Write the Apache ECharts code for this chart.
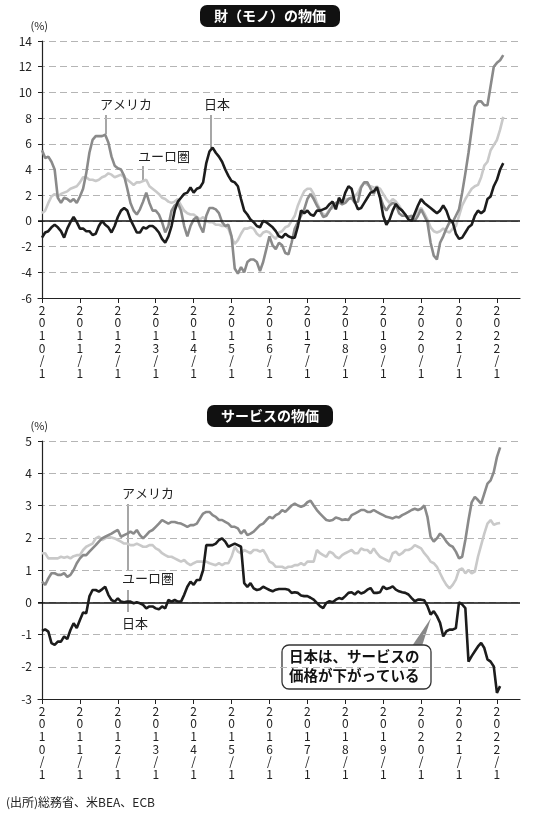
<!DOCTYPE html>
<html><head><meta charset="utf-8">
<script src="https://cdn.jsdelivr.net/npm/echarts@6/dist/echarts.min.js"></script>
<style>html,body{margin:0;padding:0;background:#fff}#c{width:540px;height:816px}</style>
</head><body><div id="c"></div>
<script>
// months from 2010/1 (index 0)
const tickMonths=[0,12,24,36,48,60,72,84,96,108,120,132,144];
const tickLabels=['2010/1','2011/1','2012/1','2013/1','2014/1','2015/1','2016/1','2017/1','2018/1','2019/1','2020/1','2021/1','2022/1'];
const goodsUS=[5.5,4.9,5.0,4.6,4.0,1.8,1.4,1.8,1.7,1.5,1.7,1.4,
1.9,2.5,3.7,5.3,6.3,6.6,6.6,6.6,6.7,6.1,5.0,4.3,
4.1,4.0,3.5,2.5,1.4,0.8,0.5,0.9,1.5,2.2,1.4,0.8,
0.8,0.5,-0.1,-0.9,-0.4,0.8,1.2,1.4,0.8,-0.4,-1.2,-0.4,
0.1,0.3,-0.4,-0.9,0.4,1.0,1.0,0.9,0.6,-0.1,-0.4,-0.3,
-1.2,-3.7,-4.1,-3.6,-4.0,-3.2,-3.0,-3.0,-3.2,-3.9,-3.2,-2.2,
-1.2,-1.9,-2.2,-1.7,-1.9,-2.5,-2.6,-1.7,-0.6,-0.1,0.4,0.9,
1.7,2.1,1.7,1.2,0.8,0.3,0.4,0.8,1.2,1.4,1.5,1.3,
1.4,1.7,1.8,1.4,1.5,2.6,3.0,3.0,2.5,2.1,2.7,1.9,
1.2,0.8,1.2,1.4,1.3,0.6,0.4,0.4,0.3,0.4,0.0,0.4,
0.9,0.4,-0.1,-1.7,-2.7,-3.0,-1.7,-1.2,-0.6,-0.1,-0.1,0.4,
0.9,2.2,3.7,5.3,7.1,8.9,9.3,9.3,9.0,9.0,10.5,12.0,
12.3,12.5,12.9];
const goodsEU=[0.6,0.8,1.4,1.9,2.1,1.9,2.1,2.2,2.3,2.5,2.6,2.7,
3.0,3.4,3.4,3.2,3.2,3.1,3.2,3.4,3.5,3.7,3.6,3.4,
3.5,3.6,3.4,3.2,3.0,2.8,3.0,3.0,3.1,3.2,2.7,2.5,
2.3,2.1,1.8,1.7,1.5,1.4,1.5,1.7,1.2,0.8,0.6,0.5,
0.5,0.3,0.1,0.3,0.0,-0.1,-0.1,-0.3,-0.3,-0.4,-0.4,-0.6,
-1.3,-1.8,-1.5,-1.0,-0.6,-0.6,-0.5,-0.6,-1.0,-1.2,-0.9,-0.8,
-0.9,-1.2,-1.4,-0.9,-0.8,-0.5,-0.4,0.0,0.4,1.2,1.8,2.3,
2.5,2.5,2.1,1.4,0.9,0.5,0.5,0.9,1.0,1.3,1.4,1.3,
1.7,1.7,1.8,1.9,2.2,2.7,3.0,2.8,2.7,2.6,2.6,2.5,
2.1,1.7,1.4,1.7,1.5,1.2,0.8,0.4,0.3,0.1,0.4,0.8,
1.0,0.6,0.1,-0.5,-0.8,-0.9,-0.8,-0.6,-0.8,-0.9,-0.6,-0.4,
0.4,1.2,1.7,2.1,2.5,2.7,2.8,3.4,4.3,4.6,5.5,5.9,
6.3,7.1,8.1];
const goodsJP=[-1.3,-0.9,-0.8,-0.5,-0.3,-0.5,-0.8,-1.3,-0.6,-0.1,0.3,-0.1,
-0.6,-0.6,-0.8,-0.8,-1.1,-1.0,-0.4,0.0,-0.3,-0.5,-0.9,-0.4,
0.3,0.8,1.0,0.8,0.1,-0.4,-0.9,-0.9,-0.5,-0.6,-0.4,-0.4,
-0.6,-0.9,-1.4,-1.7,-1.2,-0.4,0.8,1.5,1.8,2.1,2.2,2.6,
2.2,2.5,2.6,3.0,4.5,5.4,5.7,5.3,5.0,4.6,4.0,3.5,
3.1,3.0,2.7,1.7,0.8,0.5,0.1,-0.1,-0.4,-0.5,0.0,-0.1,
-0.3,-0.5,-0.8,-1.2,-1.3,-1.0,-1.2,-1.3,-1.3,-0.4,0.8,0.6,
0.8,0.5,0.4,0.8,0.8,0.9,1.0,1.3,1.5,0.9,1.8,1.4,
2.2,2.7,2.5,1.5,0.9,1.0,1.4,1.8,2.2,2.3,2.6,1.8,
0.4,-0.3,0.1,0.8,1.3,1.0,0.8,0.5,0.1,0.0,0.6,1.2,
1.7,1.4,1.2,1.0,0.8,0.6,0.8,1.2,0.8,0.1,-0.1,-1.0,
-1.4,-1.3,-0.9,-0.5,-0.3,0.4,0.8,0.6,0.8,1.7,1.9,2.7,
3.2,4.0,4.5];
const servUS=[0.64,0.54,0.74,0.90,0.90,0.85,0.85,0.90,0.79,0.85,1.0,1.21,
1.36,1.46,1.46,1.57,1.67,1.77,1.88,1.98,2.03,2.08,2.13,2.19,
2.24,2.03,2.08,2.13,2.19,2.13,2.24,2.08,1.98,2.08,2.19,2.24,
2.34,2.44,2.55,2.49,2.44,2.49,2.49,2.46,2.44,2.39,2.34,2.39,
2.39,2.44,2.60,2.75,2.80,2.80,2.70,2.65,2.55,2.55,2.49,2.44,
2.34,2.34,2.29,2.13,2.24,2.08,2.13,2.19,2.29,2.39,2.44,2.55,
2.65,2.6,2.7,2.75,2.86,2.8,2.9,3.0,3.06,3.0,2.96,3.0,
3.1,3.15,3.0,2.86,2.75,2.65,2.55,2.53,2.55,2.63,2.6,2.55,
2.57,2.55,2.7,2.75,2.8,2.86,2.86,2.8,2.8,2.86,2.8,2.75,
2.7,2.65,2.63,2.6,2.65,2.63,2.7,2.75,2.8,2.86,2.9,2.86,
2.9,3.0,2.65,2.03,1.88,1.98,2.13,2.03,1.88,1.77,1.72,1.57,
1.36,1.41,1.93,2.55,3.1,3.27,3.17,3.06,3.37,3.68,3.78,4.04,
4.5,4.8];
const servEU=[1.52,1.52,1.36,1.36,1.36,1.36,1.41,1.38,1.41,1.36,1.43,1.46,
1.46,1.62,1.72,1.77,1.82,1.98,2.03,1.93,1.98,2.03,2.01,1.98,
1.93,1.88,1.82,1.82,1.77,1.77,1.82,1.77,1.72,1.72,1.77,1.77,
1.67,1.62,1.52,1.46,1.41,1.41,1.36,1.31,1.26,1.31,1.21,1.15,
1.21,1.26,1.26,1.26,1.26,1.21,1.18,1.15,1.21,1.15,1.21,1.21,
1.41,1.72,1.57,1.52,1.62,1.57,1.52,1.62,1.62,1.57,1.62,1.46,
1.26,1.21,1.1,1.1,1.1,1.05,1.1,1.1,1.15,1.15,1.21,1.15,
1.26,1.26,1.26,1.62,1.52,1.46,1.41,1.57,1.52,1.41,1.36,1.46,
1.52,1.57,1.62,1.52,1.52,1.67,1.62,1.62,1.52,1.67,1.52,1.41,
1.36,1.31,1.26,1.52,1.57,1.46,1.52,1.62,1.62,1.67,1.77,1.72,
1.67,1.52,1.41,1.26,1.21,1.1,0.9,0.7,0.54,0.43,0.54,0.70,
1.0,1.05,0.9,1.0,0.9,0.95,1.41,1.77,2.13,2.44,2.55,2.4,
2.44,2.46];
const servJP=[-0.89,-0.84,-0.91,-1.27,-1.32,-1.22,-1.22,-1.06,-1.14,-0.86,-0.65,-0.80,
-0.55,-0.32,-0.34,0.18,0.38,0.38,0.33,0.40,0.48,0.23,0.07,0.02,
0.12,0.02,0.0,0.02,0.02,-0.03,0.0,-0.03,-0.08,-0.19,-0.13,-0.13,
-0.19,-0.22,-0.13,-0.19,0.07,0.02,0.07,0.02,0.02,0.23,0.48,0.64,
0.54,0.69,0.69,1.0,1.77,1.77,1.77,1.82,1.93,1.98,1.88,1.72,
1.77,1.82,1.77,1.72,0.59,0.48,0.59,0.43,0.38,0.40,0.48,0.43,
0.38,0.34,0.39,0.41,0.41,0.41,0.39,0.29,0.31,0.29,0.21,0.19,
0.19,0.14,0.08,-0.02,-0.12,-0.18,-0.02,0.03,0.0,0.08,0.13,0.10,
0.19,0.29,0.31,0.24,0.34,0.27,0.31,0.39,0.44,0.29,0.29,0.31,
0.49,0.41,0.44,0.49,0.39,0.34,0.31,0.29,0.24,0.13,0.03,0.08,
0.08,0.06,-0.12,-0.38,-0.28,-0.43,-0.64,-1.06,-0.9,-0.85,-0.85,-0.8,
0.0,-0.07,-0.18,-1.84,-1.67,-1.52,-1.37,-1.26,-1.42,-1.77,-1.84,-1.99,
-2.81,-2.6];

const F='"Noto Sans CJK JP","Noto Sans",sans-serif';
const pairs=a=>a.map((v,i)=>[i,v]);
const C_US='#8a8a8a',C_EU='#c9c9c9',C_JP='#1c1c1c';
const xMin=-1.27,xMax=151.3;
function xAx(gi){return {type:'value',gridIndex:gi,min:xMin,max:xMax,
  axisLine:{onZero:false,lineStyle:{color:'#222',width:1.2}},
  axisTick:{show:true,length:5,customValues:tickMonths,lineStyle:{color:'#222'}},
  axisLabel:{customValues:tickMonths,formatter:v=>{const s=tickLabels[tickMonths.indexOf(v)]||'';return s.split('').join('\n');},
    color:'#222',fontSize:12,lineHeight:12.6,fontFamily:F,margin:6},
  splitLine:{show:false}};}
function yAx(gi,mn,mx,iv){return {type:'value',gridIndex:gi,min:mn,max:mx,interval:iv,
  name:'(%)',nameLocation:'end',nameGap:10,nameTextStyle:{color:'#222',fontSize:11,fontFamily:F,align:'right',padding:[0,-6,0,0]},
  axisLine:{show:true,lineStyle:{color:'#222',width:1.2}},axisTick:{show:true,length:4,inside:false,lineStyle:{color:'#222'}},
  axisLabel:{color:'#222',fontSize:12,fontFamily:F,margin:6},
  splitLine:{show:true,lineStyle:{color:'#b5b5b5',type:[7,4],width:1}}};}
function ln(name,d,color,w,gi,z,zero){const s={type:'line',name,data:pairs(d),xAxisIndex:gi,yAxisIndex:gi,showSymbol:false,
  lineStyle:{color,width:w},z,animation:false};
  if(zero)s.markLine={silent:true,symbol:'none',label:{show:false},lineStyle:{color:'#111',width:1.5,type:'solid'},data:[{yAxis:0}]};
  return s;}
const txt=(x,y,t,o)=>Object.assign({type:'text',x,y,style:{text:t,font:'13px '+F,fill:'#222'}},o||{});
const seg=(x1,y1,x2,y2,c,w)=>({type:'line',shape:{x1,y1,x2,y2},style:{stroke:c||'#777',lineWidth:w||1.3}});
const chart=echarts.init(document.getElementById('c'));
chart.setOption({
  animation:false,backgroundColor:'#fff',
  title:[
    {text:'財（モノ）の物価',left:'center',top:5,backgroundColor:'#111',borderRadius:7,padding:[4,14,4,14],textStyle:{color:'#fff',fontSize:14,fontWeight:'bold',fontFamily:F}},
    {text:'サービスの物価',left:'center',top:405,backgroundColor:'#111',borderRadius:7,padding:[4,14,4,14],textStyle:{color:'#fff',fontSize:14,fontWeight:'bold',fontFamily:F}}
  ],
  grid:[{left:38,right:20,top:41,height:257},{left:38,right:20,top:441,height:258}],
  xAxis:[xAx(0),xAx(1)],
  yAxis:[yAx(0,-6,14,2),yAx(1,-3,5,1)],
  series:[
    ln('ユーロ圏',goodsEU,C_EU,2.6,0,3,false),
    ln('アメリカ',goodsUS,C_US,2.6,0,4,false),
    ln('日本',goodsJP,C_JP,2.6,0,5,true),
    ln('ユーロ圏',servEU,C_EU,2.6,1,3,false),
    ln('アメリカ',servUS,C_US,2.6,1,4,false),
    ln('日本',servJP,C_JP,2.6,1,5,true)
  ],
  graphic:[
    txt(100,98,'アメリカ'),seg(106,115,106,134),
    txt(204,98,'日本'),seg(211,115,211,148),
    txt(138,150,'ユーロ圏'),seg(143,166,143,180),
    txt(122,487,'アメリカ'),seg(128,504,128,570),
    txt(122,572,'ユーロ圏'),seg(128,590,128,612),
    txt(122,617,'日本'),
    {type:'polygon',shape:{points:[[412,646],[422,646],[431,618]]},style:{fill:'#888'}},
    {type:'rect',shape:{x:282,y:645,width:149,height:44,r:7},style:{fill:'#fff',stroke:'#333',lineWidth:1.3}},
    txt(289,649,'日本は、サービスの',{style:{text:'日本は、サービスの',font:'bold 14.5px '+F,fill:'#111'}}),
    txt(289,668,'価格が下がっている',{style:{text:'価格が下がっている',font:'bold 14.5px '+F,fill:'#111'}}),
    txt(6,796,'(出所)総務省、米BEA、ECB',{style:{text:'(出所)総務省、米BEA、ECB',font:'12px '+F,fill:'#222'}})
  ]
});
</script></body></html>
